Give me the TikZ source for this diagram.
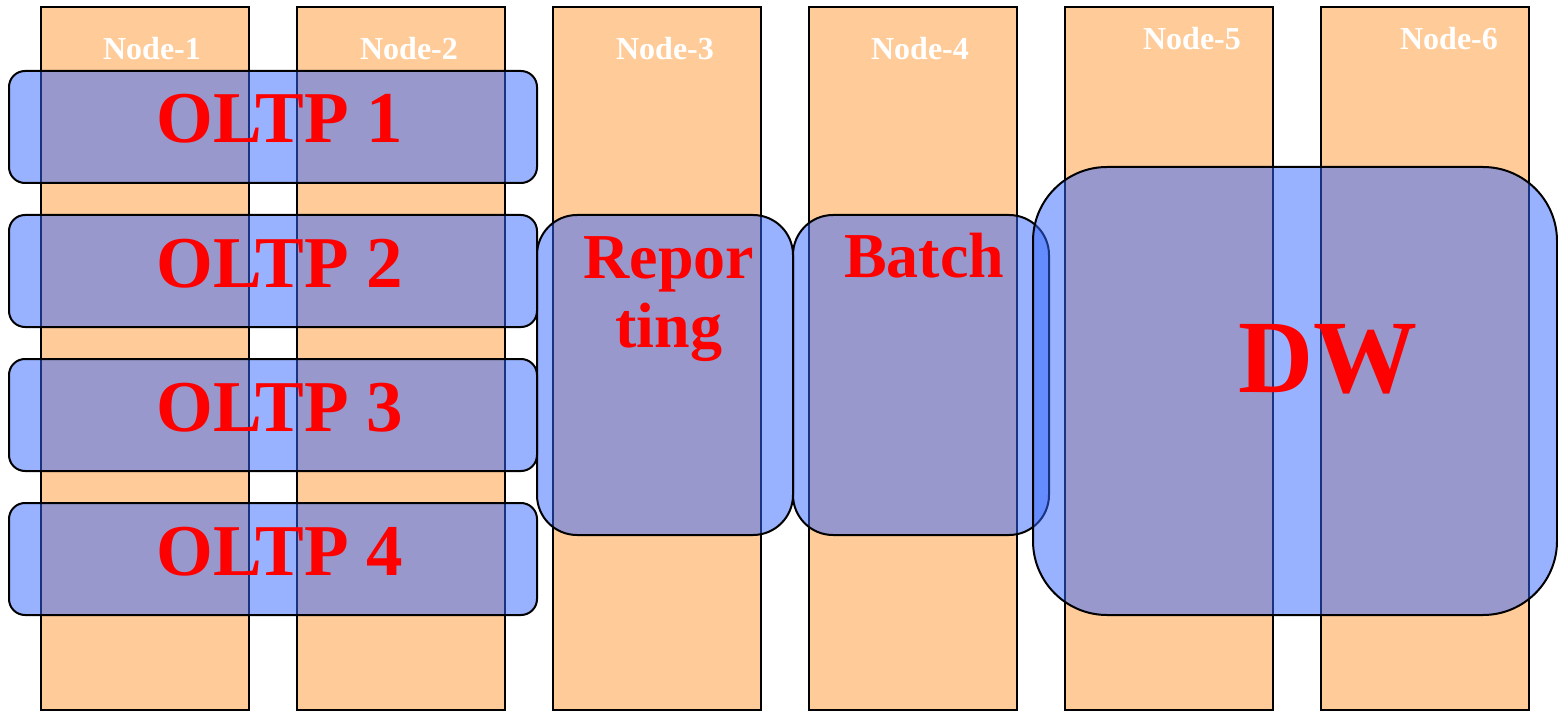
\documentclass[tikz,border=0pt]{standalone}
\usepackage{fontspec}
\setmainfont{Liberation Serif}
\usepackage{tikz}
\usetikzlibrary{positioning}
\definecolor{srvorange}{HTML}{FFCC99}
\definecolor{wlblue}{HTML}{3366FF}
\tikzstyle{server}=[rectangle,draw=black,fill=srvorange,line width=1pt,inner sep=0mm,minimum width=104pt,minimum height=351.5pt]
\tikzstyle{work}=[rectangle,draw=black,fill=wlblue,fill opacity=0.5,line width=1pt,inner sep=0mm]
\tikzstyle{oltp}=[work,rounded corners=8pt,minimum width=264pt,minimum height=56pt]
\tikzstyle{job}=[work,rounded corners=20pt,minimum width=128pt,minimum height=160pt]
\tikzstyle{srvlabel}=[anchor=base,text=white,inner sep=0mm,font=\bfseries\fontsize{16}{19}\selectfont]
\tikzstyle{wlabel}=[anchor=base,text=red,inner sep=0mm,font=\bfseries\fontsize{36.5}{40}\selectfont]

\begin{document}
\begin{tikzpicture}[x=0.5pt,y=-0.5pt]
      \useasboundingbox (0,0) rectangle (1558,711);
      % servers
      \foreach \i/\dx/\by in {1/7/60,2/8/60,3/8/60,4/7/60,5/23/50,6/24/50} {
        \node[server] (n\i) at (145+256*\i-256,358.5) {};
        \node[srvlabel] (l\i) at (145+256*\i-256+\dx,\by) {Node-\i};
      }
      % workloads
      \foreach \i in {1,...,4} {
        \node[oltp] (o\i) at (273,127+144*\i-144) {};
      }
      \node[job] (rep) at (665,375) {};
      \node[job] (bat) at (921,375) {};
      \node[work, rounded corners=37pt, minimum width=262pt, minimum height=224pt] (dw) at (1295,391) {};
      \foreach \i in {1,...,4} {
        \node[wlabel] (to\i) at (280,143+144*\i-144) {OLTP \i};
      }
      \node[wlabel, font=\bfseries\fontsize{32}{35}\selectfont, align=center] (trep) at (669,348) {Repor\\ting};
      \node[wlabel, font=\bfseries\fontsize{32}{35}\selectfont] (tbat) at (924,278) {Batch};
      \node[wlabel, font=\bfseries\fontsize{52}{56}\selectfont] (tdw) at (1328,392) {DW};
\end{tikzpicture}
\end{document}
